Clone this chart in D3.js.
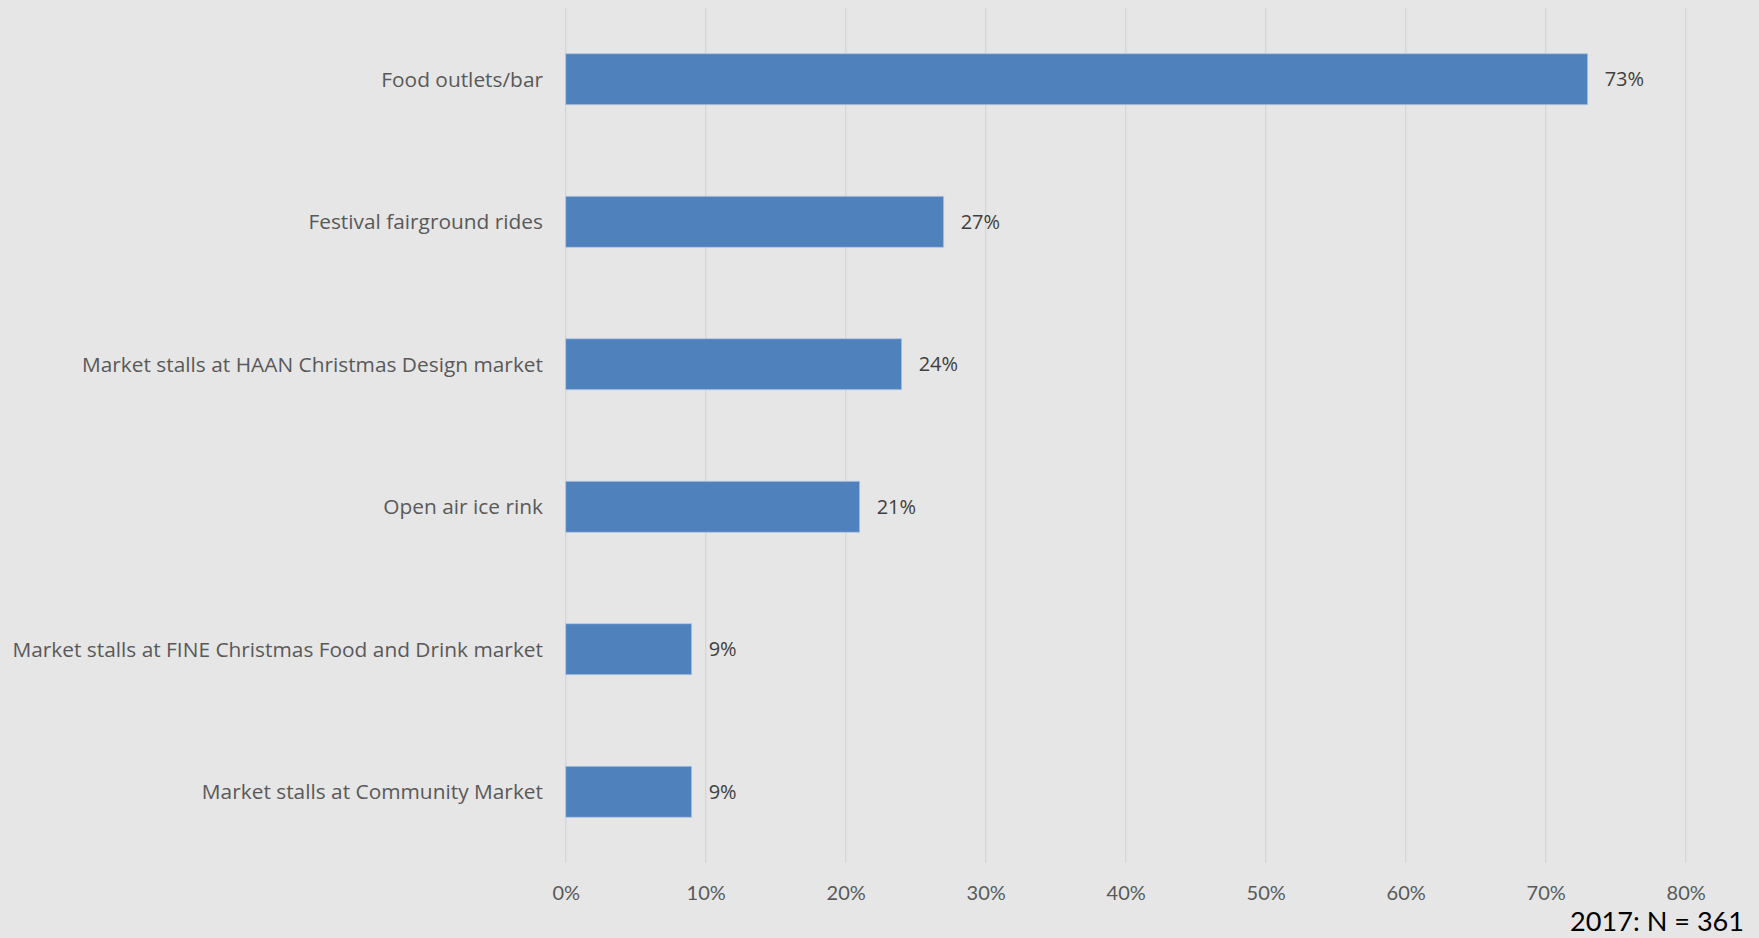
<!DOCTYPE html>
<html>
<head>
<meta charset="utf-8">
<script src="https://cdn.jsdelivr.net/npm/d3@7"></script>
<style>
  html, body { margin: 0; padding: 0; background: #E6E6E6; }
  svg { display: block; }
</style>
</head>
<body>
<svg id="chart" width="1759" height="938"></svg>
<script>
// Attractions visited — share of respondents
const categories = [
  "Food outlets/bar",
  "Festival fairground rides",
  "Market stalls at HAAN Christmas Design market",
  "Open air ice rink",
  "Market stalls at FINE Christmas Food and Drink market",
  "Market stalls at Community Market"
];
const values = [73, 27, 24, 21, 9, 9];
const tickValues = [0, 10, 20, 30, 40, 50, 60, 70, 80];
const sampleNote = "2017: N = 361";

const W = 1759, H = 938;
const plot = { left: 565.7, right: 1685.7, top: 8, bottom: 863 };

const svg = d3.select("#chart");

svg.append("rect").attr("width", W).attr("height", H).attr("fill", "#E6E6E6");

const x = d3.scaleLinear().domain([0, 80]).range([plot.left, plot.right]);
const y = d3.scaleBand()
  .domain(categories)
  .range([plot.top, plot.bottom])
  .paddingInner(0.642)
  .paddingOuter(0.321);

// vertical gridlines
svg.append("g")
  .selectAll("line")
  .data(tickValues)
  .join("line")
  .attr("x1", d => x(d)).attr("x2", d => x(d))
  .attr("y1", plot.top).attr("y2", plot.bottom)
  .attr("stroke", "#D5D5D5")
  .attr("stroke-width", 1.3);

// x axis tick labels
const xAxis = d3.axisBottom(x)
  .tickValues(tickValues)
  .tickFormat(d => d + "%")
  .tickSize(0)
  .tickPadding(0);
const gx = svg.append("g")
  .attr("transform", `translate(0, 893)`)
  .call(xAxis);
gx.select(".domain").remove();
gx.selectAll("text")
  .attr("dy", "0.35em")
  .attr("fill", "#595959")
  .style("font-family", "Lato, 'Open Sans', sans-serif")
  .style("font-size", "20px");

// bars
svg.append("g")
  .selectAll("rect")
  .data(values)
  .join("rect")
  .attr("x", x(0))
  .attr("y", (d, i) => y(categories[i]))
  .attr("width", d => x(d) - x(0))
  .attr("height", y.bandwidth())
  .attr("fill", "#4F81BD")
  .attr("stroke", "#B4C7E2")
  .attr("stroke-width", 0.8);

// value labels
svg.append("g")
  .selectAll("text")
  .data(values)
  .join("text")
  .attr("x", d => x(d) + 17)
  .attr("y", (d, i) => y(categories[i]) + y.bandwidth() / 2)
  .attr("dy", "0.35em")
  .attr("fill", "#404040")
  .style("font-family", "'Open Sans', sans-serif")
  .style("font-size", "20px")
  .text(d => d + "%");

// category labels
const catLabels = svg.append("g")
  .selectAll("text")
  .data(categories)
  .join("text")
  .attr("x", 543)
  .attr("y", d => y(d) + y.bandwidth() / 2)
  .attr("dy", "0.35em")
  .attr("text-anchor", "end")
  .attr("fill", "#595959")
  .style("font-family", "'Open Sans', sans-serif")
  .style("font-size", "20px")
  .text(d => d);

// size category labels so the longest one spans the left margin
let longest = 0;
catLabels.each(function () { longest = Math.max(longest, this.getComputedTextLength()); });
const catSize = 20 * 531 / longest;
catLabels.style("font-size", catSize.toFixed(2) + "px");

// sample size note, baseline near the bottom edge
const note = svg.append("text")
  .attr("x", 1744)
  .attr("y", 931)
  .attr("text-anchor", "end")
  .attr("fill", "#000000")
  .style("font-family", "Lato, 'Open Sans', sans-serif")
  .style("font-size", "25px")
  .text(sampleNote);
const noteLen = note.node().getComputedTextLength();
note.style("font-size", (25 * 174 / noteLen).toFixed(2) + "px");
</script>
</body>
</html>
